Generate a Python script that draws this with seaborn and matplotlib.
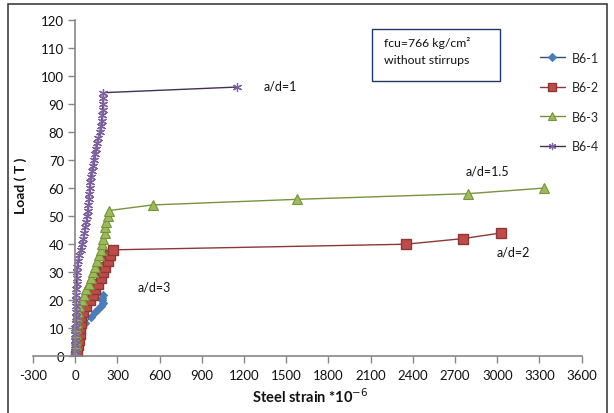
import matplotlib
matplotlib.use("Agg")
import matplotlib.pyplot as plt
import seaborn as sns
import pandas as pd
from matplotlib.lines import Line2D
from matplotlib.patches import Rectangle

sns.set_theme(style="white")
plt.rcParams["font.family"] = ["Lato", "DejaVu Sans"]

# Load (T) and steel strain (*10^-6) per beam
b61_load = [0, 2, 4, 6, 8, 10, 12, 14, 16, 17, 18, 19, 20, 21, 22]
b61_strain = [0, 2, 4, 6, 10, 15, 70, 110, 140, 160, 180, 198, 188, 192, 200]

b62_load = [0, 2, 4, 6, 8, 10, 12, 14, 16, 18, 20, 22, 24, 26, 28, 30, 32, 34, 36, 38,
            40, 42, 44]
b62_strain = [5, 10, 20, 28, 32, 35, 38, 40, 55, 80, 105, 125, 140, 165, 185, 200, 215,
              235, 250, 268, 2350, 2755, 3025]

b63_load = [0, 2, 4, 6, 8, 10, 12, 14, 16, 18, 20, 22, 24, 26, 28, 30, 32, 34, 36, 38,
            40, 42, 44, 46, 48, 50, 52, 54, 56, 58, 60]
b63_strain = [0, 2, 4, 5, 7, 9, 11, 14, 18, 28, 45, 60, 78, 95, 110, 125, 140, 155, 170,
              185, 190, 200, 210, 215, 218, 235, 242, 550, 1580, 2790, 3330]

b64_load = [0, 2, 4, 6, 8, 10, 12, 14, 16, 18, 20, 22, 24, 26, 28, 30, 32, 34, 36, 38,
            40, 42, 44, 46, 48, 50, 52, 54, 56, 58, 60, 62, 64, 66, 68, 70, 72, 74, 76,
            78, 80, 82, 84, 86, 88, 90, 92, 94, 96]
b64_strain = [0, 0, 1, 1, 2, 2, 3, 4, 5, 6, 7, 8, 9, 10, 11, 13, 15, 20, 28, 38, 48, 58,
              66, 73, 80, 86, 90, 94, 98, 101, 104, 106, 110, 118, 126, 131, 138, 146,
              155, 165, 175, 183, 188, 192, 195, 197, 199, 201, 1150]

x_ticks = list(range(-300, 3601, 300))
y_ticks = list(range(0, 121, 10))

fig = plt.figure(figsize=(6.14, 4.14), dpi=100)
ax = fig.add_axes([0.0537, 0.1365, 0.8937, 0.8135])

series = [
    ("B6-1", b61_strain, b61_load, dict(marker="D", markersize=4.5, color="#2c4d75",
                                         mfc="#4a7ebb", mec="#4a7ebb", lw=1.0)),
    ("B6-2", b62_strain, b62_load, dict(marker="s", markersize=7, color="#8c3836",
                                         mfc="#be4b48", mec="#8c3836", mew=1.0, lw=1.0)),
    ("B6-3", b63_strain, b63_load, dict(marker="^", markersize=7, color="#77933c",
                                         mfc="#9bbb59", mec="#77933c", mew=0.8, lw=1.0)),
    ("B6-4", b64_strain, b64_load, dict(marker=(6, 2, 0), markersize=6.5, color="#403152",
                                         mfc="#7d60a0", mec="#7d60a0", mew=0.9, lw=1.0)),
]

handles = []
for name, xs, ys, st in series:
    df = pd.DataFrame({"strain": xs, "load": ys})
    sns.lineplot(data=df, x="strain", y="load", sort=False, estimator=None, ax=ax,
                 color=st["color"], linewidth=st["lw"], marker=st["marker"],
                 markersize=st["markersize"], markerfacecolor=st["mfc"],
                 markeredgecolor=st["mec"], markeredgewidth=st.get("mew", 0.8))
    handles.append(Line2D([], [], color=st["color"], lw=st["lw"], marker=st["marker"],
                          markersize=st["markersize"] * 0.8, markerfacecolor=st["mfc"],
                          markeredgecolor=st["mec"], markeredgewidth=st.get("mew", 0.8),
                          label=name))

ax.set_xlim(-300, 3600)
ax.set_ylim(0, 120)
ax.set_xticks(x_ticks)
ax.set_yticks(y_ticks)
ax.set_xticklabels([str(v) for v in x_ticks])
ax.set_yticklabels([str(v) for v in y_ticks])

for s in ("top", "right"):
    ax.spines[s].set_visible(False)
ax.spines["left"].set_position(("data", 0))
for s in ("left", "bottom"):
    ax.spines[s].set_color("#868686")
    ax.spines[s].set_linewidth(1.2)
ax.tick_params(axis="both", which="major", direction="out", length=5, width=1.0,
               color="#868686", labelsize=9.5, labelcolor="#111111", pad=3)
ax.tick_params(axis="x", bottom=True, pad=4)
ax.tick_params(axis="y", left=True)
ax.grid(False)
ax.set_xlabel("")
ax.set_ylabel("")

fig.text(0.505, 0.043, "Steel strain *10$^{-6}$", ha="center", va="center",
         fontsize=10.5, fontweight="bold", color="#111111")
fig.text(0.034, 0.55, "Load ( T )", ha="center", va="center", rotation=90,
         fontsize=10, fontweight="bold", color="#111111")

# Shear span labels
ax.text(1340, 96.6, "a/d=1", fontsize=9, va="center", ha="left", color="#111111")
ax.text(2775, 66.3, "a/d=1.5", fontsize=9, va="center", ha="left", color="#111111")
ax.text(2995, 37.3, "a/d=2", fontsize=9, va="center", ha="left", color="#111111")
ax.text(445, 24.8, "a/d=3", fontsize=9, va="center", ha="left", color="#111111")

# Concrete strength note
fig.patches.append(Rectangle((372 / 614, 1 - 82 / 414), 128 / 614, 52 / 414,
                             transform=fig.transFigure, fill=False,
                             edgecolor="#1f3864", linewidth=1.0))
fig.text(384 / 614, 1 - 43 / 414, "fcu=766 kg/cm\u00b2", fontsize=8.8, va="center",
         ha="left", color="#111111")
fig.text(384 / 614, 1 - 60 / 414, "without stirrups", fontsize=8.8, va="center",
         ha="left", color="#111111")

leg = fig.legend(handles=handles, loc="upper left", bbox_to_anchor=(531 / 614, 1 - 44 / 414),
                 frameon=False, fontsize=9, handlelength=2.0, handletextpad=0.6,
                 labelspacing=1.4, borderpad=0.2)

# Outer chart border
fig.patches.append(Rectangle((8 / 614, -0.05), 599 / 614, 1.05 - 5 / 414,
                             transform=fig.transFigure, fill=False,
                             edgecolor="#404040", linewidth=1.2))

fig.savefig("out.png", dpi=100)
